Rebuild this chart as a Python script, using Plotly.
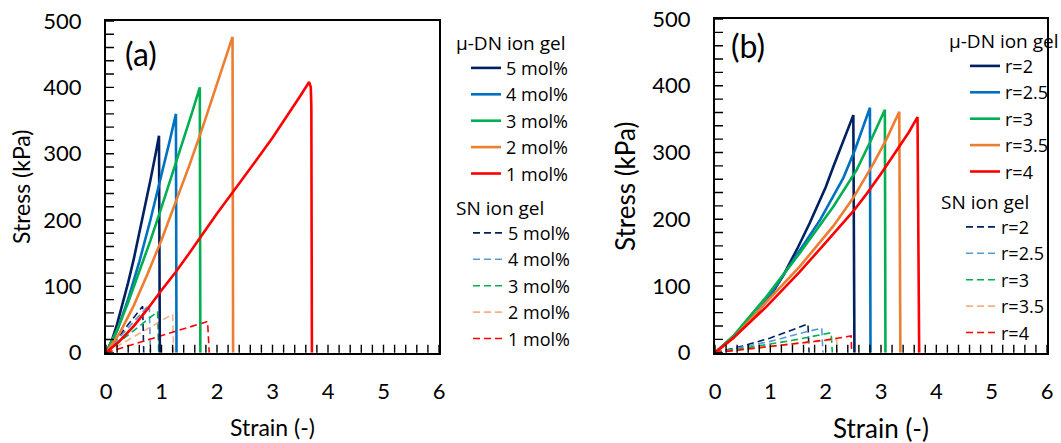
import plotly.graph_objects as go

# ---------------- Panel (a): crosslinker concentration ----------------
a_dn_5_strain = [0, 0.1, 0.2, 0.3, 0.4, 0.5, 0.6, 0.7, 0.8, 0.9, 0.955, 0.97]
a_dn_5_stress = [0, 17, 43, 73, 106, 141, 179, 218, 260, 302, 327, 0]
a_dn_4_strain = [0, 0.2, 0.4, 0.6, 0.8, 1.0, 1.15, 1.26, 1.27]
a_dn_4_stress = [0, 33, 81, 137, 200, 267, 320, 360, 0]
a_dn_3_strain = [0, 0.2, 0.4, 0.6, 0.8, 1.0, 1.2, 1.4, 1.55, 1.69, 1.70]
a_dn_3_stress = [0, 34, 76, 122, 169, 219, 270, 322, 362, 400, 0]
a_dn_2_strain = [0, 0.25, 0.5, 0.75, 1.0, 1.25, 1.5, 1.75, 2.0, 2.15, 2.28, 2.29]
a_dn_2_stress = [0, 30, 71, 119, 170, 225, 282, 342, 404, 442, 476, 0]
a_dn_1_strain = [0, 0.25, 0.5, 0.75, 1.0, 1.25, 1.5, 1.75, 2.0, 2.25, 2.5, 2.75, 3.0,
                 3.25, 3.5, 3.66, 3.69, 3.70, 3.71]
a_dn_1_stress = [0, 18, 40, 66, 94, 121, 150, 180, 210, 238, 266, 295, 324,
                 355, 387, 408, 400, 370, 0]

a_sn_5_strain = [0, 0.66, 0.68]
a_sn_5_stress = [0, 70, 0]
a_sn_4_strain = [0, 0.78, 0.80]
a_sn_4_stress = [0, 73, 0]
a_sn_3_strain = [0, 0.93, 0.95]
a_sn_3_stress = [0, 62, 0]
a_sn_2_strain = [0, 1.20, 1.22]
a_sn_2_stress = [0, 58, 0]
a_sn_1_strain = [0, 1.83, 1.86]
a_sn_1_stress = [0, 47, 0]

a_labels = ["5 mol%", "4 mol%", "3 mol%", "2 mol%", "1 mol%"]

# ---------------- Panel (b): ratio r ----------------
b_dn_20_strain = [0, 0.33, 0.75, 1.0, 1.23, 1.5, 1.71, 2.0, 2.14, 2.3, 2.5, 2.52]
b_dn_20_stress = [0, 24, 59, 85, 115, 158, 194, 248, 279, 312, 356, 0]
b_dn_25_strain = [0, 0.33, 0.75, 0.93, 1.2, 1.53, 1.9, 2.32, 2.53, 2.8, 2.81]
b_dn_25_stress = [0, 24, 60, 78, 112, 153, 199, 262, 304, 367, 0]
b_dn_30_strain = [0, 0.33, 0.93, 1.53, 2.14, 2.56, 2.8, 3.07, 3.08]
b_dn_30_stress = [0, 25, 84, 149, 219, 274, 315, 364, 0]
b_dn_35_strain = [0, 0.33, 0.93, 1.53, 2.14, 2.5, 2.86, 3.1, 3.33, 3.35]
b_dn_35_stress = [0, 22, 76, 129, 190, 232, 283, 320, 361, 0]
b_dn_40_strain = [0, 0.33, 0.93, 1.53, 2.0, 2.5, 2.74, 3.0, 3.34, 3.5, 3.66, 3.69]
b_dn_40_stress = [0, 22, 69, 121, 165, 212, 238, 268, 310, 330, 353, 0]

b_sn_20_strain = [0, 0.5, 1.0, 1.4, 1.68, 1.70]
b_sn_20_stress = [0, 10, 22, 34, 43, 0]
b_sn_25_strain = [0, 0.5, 1.0, 1.5, 1.93, 1.95]
b_sn_25_stress = [0, 8, 17, 28, 37, 0]
b_sn_30_strain = [0, 0.5, 1.0, 1.5, 2.10, 2.12]
b_sn_30_stress = [0, 6, 13, 20, 30, 0]
b_sn_35_strain = [0, 1.0, 1.5, 2.20, 2.21]
b_sn_35_stress = [0, 9, 14, 20, 0]
b_sn_40_strain = [0, 1.0, 2.0, 2.46, 2.47]
b_sn_40_stress = [0, 9, 19, 25, 0]

b_labels = ["r=2", "r=2.5", "r=3", "r=3.5", "r=4"]

# axis ticks: labelled majors and unlabelled minors
strain_major = [0, 1, 2, 3, 4, 5, 6]
stress_major = [0, 100, 200, 300, 400, 500]
STRAIN_MINOR_STEP = 0.2
STRESS_MINOR_STEP = 20

# ---------------- Styling ----------------
FONT = "Lato"
LEG_FONT = "Open Sans"
solid_colors = ["#002060", "#0070C0", "#00B050", "#ED7D31", "#FF0000"]
dash_colors = ["#002060", "#5B9BD5", "#00B050", "#F4B183", "#FF0000"]

fig = go.Figure()

a_dn = [(a_dn_5_strain, a_dn_5_stress), (a_dn_4_strain, a_dn_4_stress),
        (a_dn_3_strain, a_dn_3_stress), (a_dn_2_strain, a_dn_2_stress),
        (a_dn_1_strain, a_dn_1_stress)]
a_sn = [(a_sn_5_strain, a_sn_5_stress), (a_sn_4_strain, a_sn_4_stress),
        (a_sn_3_strain, a_sn_3_stress), (a_sn_2_strain, a_sn_2_stress),
        (a_sn_1_strain, a_sn_1_stress)]
b_dn = [(b_dn_20_strain, b_dn_20_stress), (b_dn_25_strain, b_dn_25_stress),
        (b_dn_30_strain, b_dn_30_stress), (b_dn_35_strain, b_dn_35_stress),
        (b_dn_40_strain, b_dn_40_stress)]
b_sn = [(b_sn_20_strain, b_sn_20_stress), (b_sn_25_strain, b_sn_25_stress),
        (b_sn_30_strain, b_sn_30_stress), (b_sn_35_strain, b_sn_35_stress),
        (b_sn_40_strain, b_sn_40_stress)]

# dashed SN curves first so the solid ones sit on top
for i, (xs, ys) in enumerate(a_sn):
    fig.add_trace(go.Scatter(x=xs, y=ys, mode="lines", name=a_labels[i],
                             line=dict(color=dash_colors[i], width=1.6, dash="7px,4px"),
                             xaxis="x", yaxis="y", legend="legend2"))
for i, (xs, ys) in enumerate(a_dn):
    fig.add_trace(go.Scatter(x=xs, y=ys, mode="lines", name=a_labels[i],
                             line=dict(color=solid_colors[i], width=2.6),
                             xaxis="x", yaxis="y", legend="legend"))
for i, (xs, ys) in enumerate(b_sn):
    fig.add_trace(go.Scatter(x=xs, y=ys, mode="lines", name=b_labels[i],
                             line=dict(color=dash_colors[i], width=1.6, dash="7px,4px"),
                             xaxis="x2", yaxis="y2", legend="legend4"))
for i, (xs, ys) in enumerate(b_dn):
    fig.add_trace(go.Scatter(x=xs, y=ys, mode="lines", name=b_labels[i],
                             line=dict(color=solid_colors[i], width=2.6),
                             xaxis="x2", yaxis="y2", legend="legend3"))

W, H = 1061, 443

# panel frames in pixels: (left, right, top, bottom)
FRAME_A = (106, 439, 21, 352.7)
FRAME_B = (715, 1047, 19, 352.7)


def px_x(v):
    return v / W


def px_y(v):
    return 1 - v / H


def xaxis_style(frame, anchor):
    return dict(domain=[px_x(frame[0]), px_x(frame[1])], anchor=anchor, range=[0, 6],
                tickvals=strain_major, ticks="", showline=True, linecolor="black",
                linewidth=2, mirror=True, showgrid=False, zeroline=False,
                automargin=False, ticklabelstandoff=18,
                tickfont=dict(family=FONT, size=22, color="black"))


def yaxis_style(frame, anchor):
    return dict(domain=[px_y(frame[3]), px_y(frame[2])], anchor=anchor, range=[0, 500],
                tickvals=stress_major, ticks="", showline=True, linecolor="black",
                linewidth=2, mirror=True, showgrid=False, zeroline=False,
                automargin=False, ticklabelstandoff=18,
                tickfont=dict(family=FONT, size=22, color="black"))


def legend_style(x, y, title, indent):
    return dict(x=x, y=y, xanchor="left", yanchor="top", indentation=indent,
                bgcolor="rgba(0,0,0,0)", borderwidth=0, tracegroupgap=0,
                title=dict(text=title, font=dict(family=LEG_FONT, size=19, color="black")),
                font=dict(family=LEG_FONT, size=18, color="black"), itemwidth=30)


# inward tick marks along the bottom and left edges of each panel
TICK_LEN = 8
tick_shapes = []
for (xr, yr), frame in ((("x", "y"), FRAME_A), (("x2", "y2"), FRAME_B)):
    tick_w = TICK_LEN / (frame[1] - frame[0])
    tick_h = TICK_LEN / (frame[3] - frame[2])
    n_x = int(round(6 / STRAIN_MINOR_STEP))
    for k in range(n_x + 1):
        v = k * STRAIN_MINOR_STEP
        tick_shapes.append(dict(type="line", xref=xr, yref=yr + " domain",
                                x0=v, x1=v, y0=0, y1=tick_h,
                                line=dict(color="black", width=1.4), layer="above"))
    n_y = int(round(500 / STRESS_MINOR_STEP))
    for k in range(n_y + 1):
        v = k * STRESS_MINOR_STEP
        tick_shapes.append(dict(type="line", xref=xr + " domain", yref=yr,
                                x0=0, x1=tick_w, y0=v, y1=v,
                                line=dict(color="black", width=1.4), layer="above"))


def label(text, x, y, size, angle=0):
    return dict(text=text, x=px_x(x), y=px_y(y), xref="paper", yref="paper",
                xanchor="center", yanchor="middle", showarrow=False,
                textangle=angle, font=dict(family=FONT, size=size, color="black"))


fig.update_layout(
    width=W, height=H,
    margin=dict(l=0, r=0, t=0, b=0, autoexpand=False),
    paper_bgcolor="white", plot_bgcolor="white",
    xaxis=xaxis_style(FRAME_A, "y"),
    yaxis=yaxis_style(FRAME_A, "x"),
    xaxis2=xaxis_style(FRAME_B, "y2"),
    yaxis2=yaxis_style(FRAME_B, "x2"),
    legend=legend_style(px_x(454), px_y(25), "μ-DN ion gel", 12),
    legend2=legend_style(px_x(454), px_y(190), "SN ion gel", 14),
    legend3=legend_style(px_x(947), px_y(23), "μ-DN ion gel", 18),
    legend4=legend_style(px_x(939), px_y(184), "SN ion gel", 22),
    shapes=tick_shapes,
    annotations=[
        label("(a)", 141, 53, 32),
        label("(b)", 748, 45, 32),
        label("Stress (kPa)", 21, 187, 23, -90),
        label("Strain (-)", 272.5, 427, 23),
        label("Stress (kPa)", 625, 187, 26, -90),
        label("Strain (-)", 881, 428, 26),
    ],
)

fig.write_html("out.html")
